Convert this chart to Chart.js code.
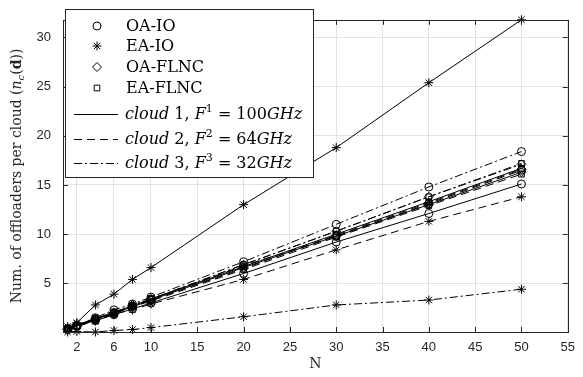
<!DOCTYPE html>
<html>
<head>
<meta charset="utf-8">
<script src="https://cdn.jsdelivr.net/npm/chart.js@4.4.0/dist/chart.umd.min.js"></script>
<style>
  html, body { margin: 0; padding: 0; background: #fff; }
  canvas { display: block; }
</style>
</head>
<body>
<canvas id="c" width="583" height="377"></canvas>
<script>
// number of users
var N = [1, 2, 4, 6, 8, 10, 20, 30, 40, 50];
var xTicks = [2, 6, 10, 15, 20, 25, 30, 35, 40, 45, 50, 55];
var yTicks = [5, 10, 15, 20, 25, 30];

// OA-IO per cloud
var oaIo1 = [0.3, 0.7, 1.2, 1.8, 2.4, 3.0, 6.0, 9.2, 12.1, 15.1];
var oaIo2 = [0.3, 0.6, 1.3, 1.9, 2.7, 3.4, 6.8, 9.8, 13.1, 16.5];
var oaIo3 = [0.4, 0.7, 1.5, 2.3, 2.9, 3.6, 7.2, 11.0, 14.8, 18.4];
// EA-IO per cloud
var eaIo1 = [0.6, 1.0, 2.8, 3.9, 5.4, 6.6, 13.0, 18.8, 25.4, 31.8];
var eaIo2 = [0.35, 0.9, 1.15, 1.9, 2.3, 2.9, 5.4, 8.4, 11.3, 13.8];
var eaIo3 = [0.05, 0.1, 0.05, 0.2, 0.3, 0.5, 1.6, 2.8, 3.3, 4.4];
// OA-FLNC per cloud
var oaFlnc1 = [0.3, 0.7, 1.3, 2.0, 2.6, 3.3, 6.6, 9.8, 13.0, 16.3];
var oaFlnc2 = [0.3, 0.6, 1.3, 2.0, 2.6, 3.3, 6.5, 9.9, 13.2, 16.6];
var oaFlnc3 = [0.4, 0.7, 1.4, 2.0, 2.8, 3.4, 6.9, 10.3, 13.8, 17.1];
// EA-FLNC per cloud
var eaFlnc1 = [0.4, 0.7, 1.4, 2.1, 2.7, 3.4, 6.7, 10.0, 13.3, 16.7];
var eaFlnc2 = [0.3, 0.6, 1.2, 1.9, 2.6, 3.2, 6.4, 9.7, 12.9, 16.1];
var eaFlnc3 = [0.3, 0.7, 1.4, 2.0, 2.7, 3.4, 6.9, 10.3, 13.8, 17.2];

var methods = ['OA-IO', 'EA-IO', 'OA-FLNC', 'EA-FLNC'];
var markers = ['circle', 'star', 'rectRot', 'rect'];
var markerSize = [4, 4.5, 4.5, 4];
var series = [
  [oaIo1, oaIo2, oaIo3],
  [eaIo1, eaIo2, eaIo3],
  [oaFlnc1, oaFlnc2, oaFlnc3],
  [eaFlnc1, eaFlnc2, eaFlnc3]
];
var dashes = [[], [8, 5], [8, 3, 2, 3]];

var SERIF = '"DejaVu Serif", "Liberation Serif", serif';
var SANS = '"Liberation Sans", Arial, sans-serif';

var datasets = [];
series.forEach(function (clouds, m) {
  clouds.forEach(function (vals, c) {
    datasets.push({
      label: methods[m] + ' cloud ' + (c + 1),
      data: N.map(function (n, i) { return { x: n, y: vals[i] }; }),
      borderColor: '#000',
      borderWidth: 1,
      borderDash: dashes[c],
      pointStyle: markers[m],
      pointRadius: markerSize[m],
      pointBorderWidth: 1,
      pointBorderColor: '#000',
      pointBackgroundColor: 'rgba(0,0,0,0)',
      tension: 0,
      clip: false
    });
  });
});

// draw a run of mixed-style text
function rich(ctx, parts, x, y, size) {
  parts.forEach(function (p) {
    var s = Math.round(size * (p.s || 1));
    ctx.font = (p.i ? 'italic ' : '') + (p.b ? 'bold ' : '') + s + 'px ' + SERIF;
    ctx.fillText(p.t, x, y + (p.dy || 0) * size);
    x += ctx.measureText(p.t).width;
  });
  return x;
}
function richWidth(ctx, parts, size) {
  var w = 0;
  parts.forEach(function (p) {
    var s = Math.round(size * (p.s || 1));
    ctx.font = (p.i ? 'italic ' : '') + (p.b ? 'bold ' : '') + s + 'px ' + SERIF;
    w += ctx.measureText(p.t).width;
  });
  return w;
}

var cloudLabels = [
  [{t: 'cloud', i: 1}, {t: ' 1, '}, {t: 'F', i: 1}, {t: '1', s: 0.7, dy: -0.38}, {t: ' = 100'}, {t: 'GHz', i: 1}],
  [{t: 'cloud', i: 1}, {t: ' 2, '}, {t: 'F', i: 1}, {t: '2', s: 0.7, dy: -0.38}, {t: ' = 64'}, {t: 'GHz', i: 1}],
  [{t: 'cloud', i: 1}, {t: ' 3, '}, {t: 'F', i: 1}, {t: '3', s: 0.7, dy: -0.38}, {t: ' = 32'}, {t: 'GHz', i: 1}]
];

var decor = {
  id: 'decor',
  afterDatasetsDraw: function (chart) {
    var ctx = chart.ctx, a = chart.chartArea;
    var xs = chart.scales.x, ys = chart.scales.y;
    ctx.save();
    // axes box
    ctx.strokeStyle = '#262626';
    ctx.lineWidth = 1;
    ctx.strokeRect(Math.round(a.left) + 0.5, Math.round(a.top) + 0.5,
      Math.round(a.right - a.left), Math.round(a.bottom - a.top));
    // inward tick marks
    ctx.beginPath();
    xTicks.forEach(function (v) {
      var px = Math.round(xs.getPixelForValue(v)) + 0.5;
      ctx.moveTo(px, a.bottom); ctx.lineTo(px, a.bottom - 5);
      ctx.moveTo(px, a.top); ctx.lineTo(px, a.top + 5);
    });
    yTicks.forEach(function (v) {
      var py = Math.round(ys.getPixelForValue(v)) + 0.5;
      ctx.moveTo(a.left, py); ctx.lineTo(a.left + 5, py);
      ctx.moveTo(a.right, py); ctx.lineTo(a.right - 5, py);
    });
    ctx.stroke();

    // legend box
    var L = {x: 65.5, y: 9.5, w: 248, h: 168};
    ctx.fillStyle = '#fff';
    ctx.fillRect(L.x, L.y, L.w, L.h);
    ctx.strokeStyle = '#262626';
    ctx.strokeRect(L.x, L.y, L.w, L.h);
    var rows = [26, 46, 67, 88, 114, 139, 163];
    ctx.strokeStyle = '#000';
    ctx.textBaseline = 'middle';
    ctx.textAlign = 'left';
    methods.forEach(function (m, i) {
      ctx.fillStyle = 'rgba(0,0,0,0)';
      Chart.helpers.drawPoint(ctx, {
        pointStyle: markers[i], radius: markerSize[i], borderWidth: 1
      }, 97, rows[i]);
      ctx.fillStyle = '#000';
      ctx.font = '16px ' + SERIF;
      ctx.fillText(m, 126, rows[i] + 1);
    });
    ctx.fillStyle = '#000';
    cloudLabels.forEach(function (parts, c) {
      var y = rows[4 + c];
      ctx.beginPath();
      ctx.setLineDash(dashes[c]);
      ctx.moveTo(74, y + 0.5); ctx.lineTo(118, y + 0.5);
      ctx.stroke();
      ctx.setLineDash([]);
      rich(ctx, parts, 125, y + 1, 16);
    });

    // axis titles
    ctx.fillStyle = '#262626';
    ctx.textAlign = 'left';
    ctx.textBaseline = 'middle';
    ctx.font = '14px ' + SERIF;
    var tw = ctx.measureText('N').width;
    ctx.fillText('N', (a.left + a.right) / 2 - tw / 2, 364);
    var yParts = [{t: 'Num. of offloaders per cloud ('}, {t: 'n', i: 1},
      {t: 'c', i: 1, s: 0.7, dy: 0.28}, {t: '('}, {t: 'd', b: 1}, {t: '))'}];
    var yw = richWidth(ctx, yParts, 14);
    ctx.translate(17, (a.top + a.bottom) / 2);
    ctx.rotate(-Math.PI / 2);
    rich(ctx, yParts, -yw / 2, 0, 14);
    ctx.restore();
  }
};

new Chart(document.getElementById('c'), {
  type: 'line',
  data: { datasets: datasets },
  options: {
    responsive: false,
    animation: false,
    devicePixelRatio: 1,
    layout: { padding: { top: 8, right: 6, left: 0, bottom: 0 } },
    plugins: { legend: { display: false }, tooltip: { enabled: false } },
    scales: {
      x: {
        type: 'linear',
        min: 0.5,
        max: 55,
        afterBuildTicks: function (s) { s.ticks = xTicks.map(function (v) { return {value: v}; }); },
        afterFit: function (s) { s.height = 45; },
        grid: { color: '#e2e2e2', drawTicks: false, lineWidth: 1 },
        border: { display: false },
        ticks: { font: { family: SANS, size: 13 }, color: '#262626', padding: 8, maxRotation: 0, autoSkip: false }
      },
      y: {
        type: 'linear',
        min: 0.05,
        max: 31.8,
        afterBuildTicks: function (s) { s.ticks = yTicks.map(function (v) { return {value: v}; }); },
        afterFit: function (s) { s.width = 63; },
        grid: { color: '#e2e2e2', drawTicks: false, lineWidth: 1 },
        border: { display: false },
        ticks: { font: { family: SANS, size: 13 }, color: '#262626', padding: 12 }
      }
    }
  },
  plugins: [decor]
});
</script>
</body>
</html>
